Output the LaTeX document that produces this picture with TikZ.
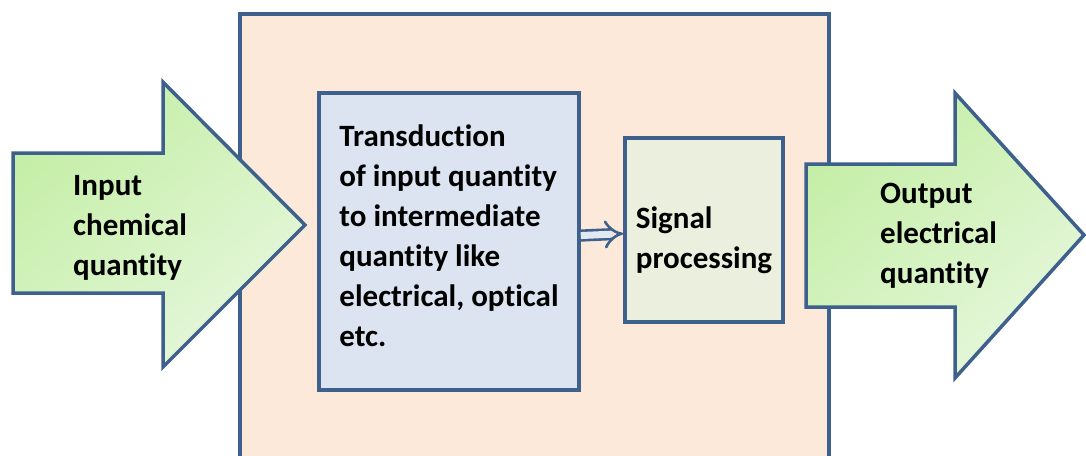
\documentclass[tikz,border=0pt]{standalone}
\usepackage{fontspec}
\setmainfont{Carlito}[Ligatures=NoCommon]
\usepackage{xcolor}
\usepackage{tikz}
\usetikzlibrary{arrows.meta,positioning,calc}
\definecolor{edge}{RGB}{62,96,140}
\definecolor{sensor}{RGB}{252,233,218}
\definecolor{stage}{RGB}{219,228,240}
\definecolor{proc}{RGB}{235,240,222}
\definecolor{greenA}{RGB}{196,238,166}
\definecolor{greenB}{RGB}{230,247,220}

\begin{document}
\begin{tikzpicture}[
  x=1pt, y=-1pt,
  lbl/.style={align=left, font=\fontsize{31}{40}\selectfont\bfseries, inner sep=0pt},
  box/.style={draw=edge, line width=3.5pt, lbl},
  bigarrow/.style={draw=edge, line width=3.5pt, line join=miter,
    top color=greenA, bottom color=greenB, shading angle=40},
  link/.style={-{Implies[scale=1.6]}, draw=edge, line width=2.6pt,
    double=stage!80!white, double distance=7pt}
]
\clip (0,0) rectangle (1086,455);
\fill[white] (0,0) rectangle (1086,455);
% sensor body, runs past the lower edge
\draw[draw=edge, fill=sensor, line width=3.5pt] (240,14) rectangle (829,470);
% input and output arrows
\draw[bigarrow] (13,153) -- (163,153) -- (163,82) -- (305,225) -- (163,367)
  -- (163,293) -- (13,293) -- cycle;
\draw[bigarrow] (806,164) -- (955,164) -- (955,93) -- (1084,235) -- (955,378)
  -- (955,307) -- (806,307) -- cycle;
\node[lbl, anchor=west] (inlbl) at (73,228) {Input\\chemical\\quantity};
\node[lbl, anchor=west] (outlbl) at (880,236) {Output\\electrical\\quantity};
% inner stages
\node[box, fill=stage, minimum width=260pt, minimum height=297pt] (trans) at (449,241.5)
  {Transduction\\of input quantity\\to intermediate\\quantity like\\electrical, optical\\etc.\\[-28pt]};
\node[box, fill=proc, minimum width=158pt, minimum height=184pt] (sig) at (704,230)
  {Signal\\processing\\[-56pt]};
\draw[link] (trans) -- (sig);
\end{tikzpicture}
\end{document}
